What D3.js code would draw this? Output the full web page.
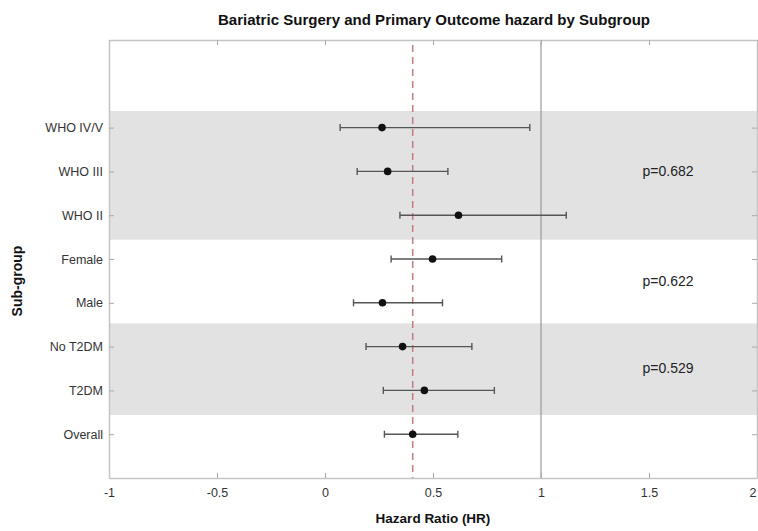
<!DOCTYPE html>
<html>
<head>
<meta charset="utf-8">
<script src="https://cdn.jsdelivr.net/npm/d3@7"></script>
<style>
  body { margin: 0; background: #fff; }
  text { font-family: "Liberation Sans", Arial, sans-serif; }
</style>
</head>
<body>
<svg id="chart" width="758" height="531"></svg>
<script>
// ---- data ----
const categories = ["WHO IV/V", "WHO III", "WHO II", "Female", "Male", "No T2DM", "T2DM", "Overall"];
const rowPos     = [8, 7, 6, 5, 4, 3, 2, 1];
const hr         = [0.264, 0.290, 0.618, 0.498, 0.266, 0.359, 0.460, 0.406];
const ciLow      = [0.070, 0.149, 0.347, 0.306, 0.132, 0.190, 0.270, 0.275];
const ciHigh     = [0.948, 0.569, 1.117, 0.818, 0.544, 0.680, 0.784, 0.615];
const bandFrom   = [5.44, 1.44];
const bandTo     = [8.38, 3.53];
const pLabels    = ["p=0.682", "p=0.622", "p=0.529"];
const pPos       = [7, 4.5, 2.5];
const pX         = 1.47;
const refLine    = 0.406;
const nullLine   = 1;
const xTicks     = [-1, -0.5, 0, 0.5, 1, 1.5, 2];
const xTickLabels= ["-1", "-0.5", "0", "0.5", "1", "1.5", "2"];

const svg = d3.select("#chart");
const m = { left: 109, right: 757, top: 40, bottom: 478 };

const x = d3.scaleLinear().domain([-1, 2]).range([m.left, m.right]);
const y = d3.scaleLinear().domain([0, 10]).range([m.bottom, m.top]);

// bands
svg.append("g").selectAll("rect").data(bandFrom).join("rect")
  .attr("x", m.left).attr("width", m.right - m.left)
  .attr("y", (d, i) => y(bandTo[i]))
  .attr("height", (d, i) => y(d) - y(bandTo[i]))
  .attr("fill", "#e2e2e2");

// reference lines
svg.append("line")
  .attr("x1", x(nullLine)).attr("x2", x(nullLine))
  .attr("y1", m.top).attr("y2", m.bottom)
  .attr("stroke", "#9a9a9a").attr("stroke-width", 1.2);

svg.append("line")
  .attr("x1", x(refLine)).attr("x2", x(refLine))
  .attr("y1", m.top + 5).attr("y2", m.bottom)
  .attr("stroke", "#c67a82").attr("stroke-width", 1.5)
  .attr("stroke-dasharray", "7,5");

// axes (MATLAB-style box with inward ticks)
const tickLen = 5;
const axB = d3.axisBottom(x).tickValues(xTicks).tickFormat((d, i) => xTickLabels[i]).tickSizeInner(-tickLen).tickSizeOuter(0).tickPadding(10);
const axT = d3.axisTop(x).tickValues(xTicks).tickFormat("").tickSizeInner(-tickLen).tickSizeOuter(0);
const axL = d3.axisLeft(y).tickValues(rowPos).tickFormat((d, i) => categories[i]).tickSizeInner(-tickLen).tickSizeOuter(0).tickPadding(6);
const axR = d3.axisRight(y).tickValues(rowPos).tickFormat("").tickSizeInner(-tickLen).tickSizeOuter(0);

function styleAxis(g) {
  g.select(".domain").attr("stroke", "#c4c4c4").attr("stroke-width", 1.5);
  g.selectAll(".tick line").attr("stroke", "#aaaaaa");
  g.selectAll(".tick text").attr("fill", "#333").style("font-size", "12.5px").style("font-family", "'Liberation Sans', Arial, sans-serif");
}
const gB = svg.append("g").attr("transform", `translate(0,${m.bottom})`).call(axB).call(styleAxis);
// keep the last tick label inside the page edge
gB.selectAll(".tick text").filter(d => d === xTicks[xTicks.length - 1])
  .attr("text-anchor", "end").attr("dx", "-1");
svg.append("g").attr("transform", `translate(0,${m.top})`).call(axT).call(styleAxis);
svg.append("g").attr("transform", `translate(${m.left},0)`).call(axL).call(styleAxis);
svg.append("g").attr("transform", `translate(${m.right},0)`).call(axR).call(styleAxis);

// CI whiskers
const rows = categories.map((c, i) => ({ c, p: rowPos[i], hr: hr[i], lo: ciLow[i], hi: ciHigh[i] }));
const g = svg.append("g");
g.selectAll("line.ci").data(rows).join("line").attr("class", "ci")
  .attr("x1", d => x(d.lo)).attr("x2", d => x(d.hi))
  .attr("y1", d => y(d.p)).attr("y2", d => y(d.p))
  .attr("stroke", "#555").attr("stroke-width", 1.4);
g.selectAll("line.capL").data(rows).join("line").attr("class", "capL")
  .attr("x1", d => x(d.lo)).attr("x2", d => x(d.lo))
  .attr("y1", d => y(d.p) - 3.5).attr("y2", d => y(d.p) + 3.5)
  .attr("stroke", "#555").attr("stroke-width", 1.4);
g.selectAll("line.capR").data(rows).join("line").attr("class", "capR")
  .attr("x1", d => x(d.hi)).attr("x2", d => x(d.hi))
  .attr("y1", d => y(d.p) - 3.5).attr("y2", d => y(d.p) + 3.5)
  .attr("stroke", "#555").attr("stroke-width", 1.4);
g.selectAll("circle").data(rows).join("circle")
  .attr("cx", d => x(d.hr)).attr("cy", d => y(d.p)).attr("r", 3.8)
  .attr("fill", "#111");

// p labels
svg.append("g").selectAll("text").data(pLabels).join("text")
  .attr("x", x(pX)).attr("y", (d, i) => y(pPos[i]))
  .attr("dy", "0.35em")
  .attr("fill", "#222").style("font-size", "14px")
  .text(d => d);

// titles
svg.append("text")
  .attr("x", 434).attr("y", 25)
  .attr("text-anchor", "middle").attr("font-weight", "bold")
  .attr("fill", "#111").style("font-size", "14.5px")
  .attr("textLength", 432).attr("lengthAdjust", "spacingAndGlyphs")
  .text("Bariatric Surgery and Primary Outcome hazard by Subgroup");

svg.append("text")
  .attr("x", 433).attr("y", 523)
  .attr("text-anchor", "middle").attr("font-weight", "bold")
  .attr("fill", "#111").style("font-size", "13.5px")
  .text("Hazard Ratio (HR)");

svg.append("text")
  .attr("transform", `translate(22,${(m.top + m.bottom) / 2 + 22}) rotate(-90)`)
  .attr("text-anchor", "middle").attr("font-weight", "bold")
  .attr("fill", "#111").style("font-size", "14px")
  .text("Sub-group");
</script>
</body>
</html>
